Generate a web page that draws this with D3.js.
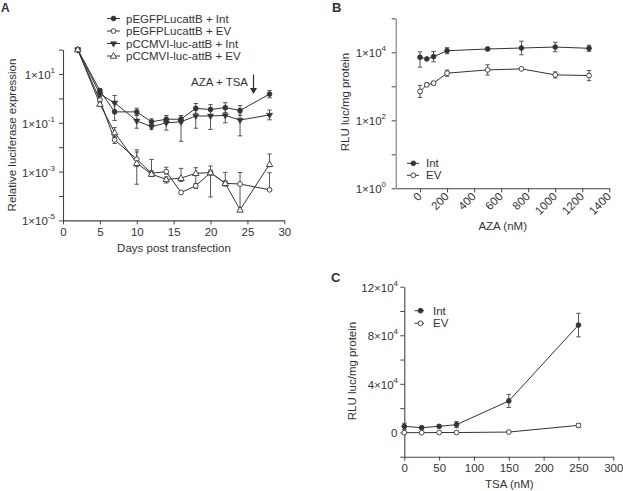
<!DOCTYPE html>
<html><head><meta charset="utf-8">
<script src="https://cdn.jsdelivr.net/npm/d3@7"></script>
<style>
body{margin:0;background:#fff;}
svg text{font-family:"Liberation Sans",Arial,sans-serif;fill:#333;}
</style></head>
<body><svg id="c" width="623" height="491"></svg>
<script>
// ---------- Panel A data ----------
const daysA = [2,5,7,10,12,14,16,18,20,22,24,28];
const egfpInt = [100,2.1,0.28,0.28,0.11,0.14,0.14,0.39,0.35,0.42,0.32,1.5];
const egfpEV  = [100,0.85,0.02,0.0032,0.00085,0.001,0.00014,0.00026,0.00091,0.00033,0.00031,0.00018];
const ccmviInt= [100,1.5,0.66,0.12,0.069,0.1,0.11,0.19,0.19,0.2,0.13,0.21];
const ccmviEV = [100,0.59,0.04,0.0022,0.00079,0.00048,0.00054,0.00085,0.00091,0.00033,0.000027,0.002];
// error bars in decades [up, down]
const egfpIntErr = [[0,0],[.08,.08],[.35,.35],[.15,.15],[.12,.12],[.15,.15],[.15,.15],[.2,.2],[.2,.2],[.2,.2],[.2,.2],[.15,.15]];
const egfpEVErr  = [[0,0],[.08,.08],[.15,.15],[.3,.3],[.1,.1],[.18,.1],[0,0],[.1,.1],[.1,.1],[.45,.1],[.47,1.05],[.7,0]];
const ccmviIntErr= [[0,0],[.1,.1],[.3,.3],[.25,.3],[.1,.1],[.15,.3],[.25,.8],[.25,.5],[.3,.55],[.25,.3],[.3,.65],[.2,.2]];
const ccmviEVErr = [[0,0],[.08,.08],[.2,.2],[.55,.86],[.6,.1],[.1,.15],[.4,.14],[.23,.5],[.27,1.0],[.1,.1],[0,0],[.42,.1]];
const seriesNamesA = ["pEGFPLucattB + Int","pEGFPLucattB + EV","pCCMVI-luc-attB + Int","pCCMVI-luc-attB + EV"];
const xTicksA = [0,5,10,15,20,25,30];
const yLabelTicksA = [1e-5,1e-3,1e-1,1e1];
const yLabelExpA = ["-5","-3","-1","1"];
const yMinorTicksA = [1e-4,1e-2,1e0,1e2];

// ---------- Panel B data ----------
const azaDose = [0,50,100,200,500,750,1000,1250];
const azaInt = [7140,6370,7430,11130,12500,13360,14290,13090];
const azaEV  = [705,1107,1241,2432,3036,3250,2167,2070];
const azaIntErr = [[.16,.29],[0,0],[.15,.15],[.09,.09],[.03,.03],[.2,.2],[.14,.14],[.09,.09]];
const azaEVErr  = [[.18,.18],[.05,.05],[.05,.05],[.09,.09],[.15,.15],[0,0],[.09,.09],[.15,.15]];
const xTicksB = [0,200,400,600,800,1000,1200,1400];
const yLabelTicksB = [1,1e2,1e4];
const yLabelExpB = ["0","2","4"];
const yMinorTicksB = [1e1,1e3,1e5];

// ---------- Panel C data ----------
const tsaDose = [0,25,50,75,150,250];
const tsaInt = [5000,3900,5000,6400,25900,88400];
const tsaEV  = [-200,-200,-100,-100,300,5800];
const tsaIntErr = [2500,800,1200,2500,5400,9700];
const tsaEVErr  = [500,300,300,300,300,1500];
const xTicksC = [0,50,100,150,200,250,300];
const yLabelTicksC = [0,40000,80000,120000];
const yLabelTextC = ["0","4×10","8×10","12×10"];
const yMinorTicksC = [-20000,20000,60000,100000];

const svg = d3.select("#c");
const ink = "#333";
const FS = 11.5;

function marker(g, type, x, y){
  const r = 2.4;
  if(type==="fc") g.append("circle").attr("cx",x).attr("cy",y).attr("r",r).attr("fill",ink).attr("stroke",ink).attr("stroke-width",0.8);
  else if(type==="oc") g.append("circle").attr("cx",x).attr("cy",y).attr("r",r).attr("fill","#fff").attr("stroke",ink).attr("stroke-width",0.9);
  else if(type==="ft") g.append("path").attr("d",d3.symbol(d3.symbolTriangle,17)()).attr("transform",`translate(${x},${y}) rotate(180)`).attr("fill",ink).attr("stroke",ink).attr("stroke-width",0.5);
  else if(type==="ot") g.append("path").attr("d",d3.symbol(d3.symbolTriangle,18)()).attr("transform",`translate(${x},${y+0.4})`).attr("fill","#fff").attr("stroke",ink).attr("stroke-width",0.9);
}

function styleAxis(g){
  g.selectAll(".domain").attr("stroke","#444").attr("stroke-width",1.1);
  g.selectAll(".tick line").attr("stroke","#444").attr("stroke-width",1);
  g.selectAll(".tick text").attr("font-size",FS).attr("fill",ink).attr("font-family","Liberation Sans, Arial, sans-serif");
}

function sciLabel(g, x, y, base, exp){
  const t = g.append("text").attr("x",x).attr("y",y).attr("text-anchor","end").attr("font-size",FS).attr("dominant-baseline","central");
  t.append("tspan").text(base);
  t.append("tspan").attr("dy",-5).attr("font-size",8).text(exp);
}

function errBar(g, x, y1, y2){
  if(Math.abs(y1-y2)<0.5) return;
  g.append("line").attr("x1",x).attr("x2",x).attr("y1",y1).attr("y2",y2).attr("stroke","#555").attr("stroke-width",1);
  g.append("line").attr("x1",x-2.2).attr("x2",x+2.2).attr("y1",y1).attr("y2",y1).attr("stroke","#555").attr("stroke-width",1);
  g.append("line").attr("x1",x-2.2).attr("x2",x+2.2).attr("y1",y2).attr("y2",y2).attr("stroke","#555").attr("stroke-width",1);
}

// ================= Panel A =================
{
  const x = d3.scaleLinear().domain([0,30]).range([63,284.3]);
  const y = d3.scaleLog().domain([1e-5,1e2]).range([220.4,49.6]);
  const g = svg.append("g");
  const ax = g.append("g").attr("transform","translate(0,220.4)")
    .call(d3.axisBottom(x).tickValues(xTicksA).tickSize(4).tickSizeOuter(0).tickPadding(3));
  styleAxis(ax);
  const ay = g.append("g").attr("transform","translate(63,0)")
    .call(d3.axisLeft(y).tickValues(yLabelTicksA.concat(yMinorTicksA)).tickFormat("").tickSize(4).tickSizeOuter(0));
  styleAxis(ay);
  yLabelTicksA.forEach((v,i)=>sciLabel(g,55,y(v)+1,"1×10",yLabelExpA[i]));
  g.append("text").attr("x",174).attr("y",252).attr("text-anchor","middle").attr("font-size",FS).text("Days post transfection");
  g.append("text").attr("transform","translate(16,135) rotate(-90)").attr("text-anchor","middle").attr("font-size",FS).text("Relative luciferase expression");
  g.append("text").attr("x",1).attr("y",12).attr("font-size",12).attr("font-weight","bold").text("A");

  const series = [
    {v:egfpInt,e:egfpIntErr,m:"fc"},
    {v:egfpEV,e:egfpEVErr,m:"oc"},
    {v:ccmviInt,e:ccmviIntErr,m:"ft"},
    {v:ccmviEV,e:ccmviEVErr,m:"ot"}
  ];
  const line = d3.line().x((d,i)=>x(daysA[i])).y(d=>y(d));
  series.forEach(s=>{
    s.v.forEach((v,i)=>{
      const yl = Math.log10(v);
      errBar(g, x(daysA[i]), y(Math.pow(10,yl+s.e[i][0])), y(Math.pow(10,yl-s.e[i][1])));
    });
  });
  series.forEach(s=>{
    g.append("path").datum(s.v).attr("d",line).attr("fill","none").attr("stroke",ink).attr("stroke-width",1);
  });
  series.forEach(s=>{
    s.v.forEach((v,i)=>marker(g,s.m,x(daysA[i]),y(v)));
  });
  // legend
  series.forEach((s,i)=>{
    const yy = 18.5 + i*12.5;
    g.append("line").attr("x1",107).attr("x2",120).attr("y1",yy).attr("y2",yy).attr("stroke",ink).attr("stroke-width",1);
    marker(g,s.m,113.5,yy);
    g.append("text").attr("x",126).attr("y",yy).attr("dominant-baseline","central").attr("font-size",FS).text(seriesNamesA[i]);
  });
  // annotation
  g.append("text").attr("x",248).attr("y",86).attr("text-anchor","end").attr("font-size",FS).text("AZA + TSA");
  g.append("line").attr("x1",253.5).attr("x2",253.5).attr("y1",74.5).attr("y2",89).attr("stroke",ink).attr("stroke-width",1.2);
  g.append("path").attr("d","M250,88 L257,88 L253.5,94 Z").attr("fill",ink);
}

// ================= Panel B =================
{
  const x = d3.scaleLinear().domain([-180,1400]).range([395.7,609.3]);
  const y = d3.scaleLog().domain([1,1e5]).range([188.3,18.3]);
  const g = svg.append("g");
  const ax = g.append("g").attr("transform","translate(0,188.3)")
    .call(d3.axisBottom(x).tickValues(xTicksB).tickFormat(d3.format("d")).tickSize(4).tickSizeOuter(0));
  styleAxis(ax);
  ax.selectAll(".tick text").attr("text-anchor","end").attr("dy",0).attr("y",0)
    .attr("transform","translate(2,9) rotate(-45)");
  const ay = g.append("g").attr("transform","translate(395.7,0)")
    .call(d3.axisLeft(y).tickValues(yLabelTicksB.concat(yMinorTicksB)).tickFormat("").tickSize(4).tickSizeOuter(0));
  styleAxis(ay);
  ay.select(".domain").attr("stroke","#777");
  yLabelTicksB.forEach((v,i)=>sciLabel(g,386,y(v)+1,"1×10",yLabelExpB[i]));
  g.append("text").attr("x",502.7).attr("y",230).attr("text-anchor","middle").attr("font-size",FS).text("AZA (nM)");
  g.append("text").attr("transform","translate(349,102) rotate(-90)").attr("text-anchor","middle").attr("font-size",FS).text("RLU luc/mg protein");
  g.append("text").attr("x",332).attr("y",12).attr("font-size",13).attr("font-weight","bold").text("B");
  const series = [{v:azaInt,e:azaIntErr,m:"fc"},{v:azaEV,e:azaEVErr,m:"oc"}];
  const line = d3.line().x((d,i)=>x(azaDose[i])).y(d=>y(d));
  series.forEach(s=>{
    s.v.forEach((v,i)=>{
      const yl=Math.log10(v);
      errBar(g,x(azaDose[i]),y(Math.pow(10,yl+s.e[i][0])),y(Math.pow(10,yl-s.e[i][1])));
    });
    g.append("path").datum(s.v).attr("d",line).attr("fill","none").attr("stroke",ink).attr("stroke-width",1);
    s.v.forEach((v,i)=>marker(g,s.m,x(azaDose[i]),y(v)));
  });
  ["Int","EV"].forEach((t,i)=>{
    const yy = 163.3 + i*12;
    g.append("line").attr("x1",407).attr("x2",419).attr("y1",yy).attr("y2",yy).attr("stroke",ink);
    marker(g,i===0?"fc":"oc",413.3,yy);
    g.append("text").attr("x",426).attr("y",yy).attr("dominant-baseline","central").attr("font-size",FS).text(t);
  });
}

// ================= Panel C =================
{
  const x = d3.scaleLinear().domain([0,300]).range([404.3,613.3]);
  const y = d3.scaleLinear().domain([-20000,120000]).range([456.7,286.7]);
  const g = svg.append("g");
  const ax = g.append("g").attr("transform","translate(0,456.7)")
    .call(d3.axisBottom(x).tickValues(xTicksC).tickSize(4).tickSizeOuter(0).tickPadding(3));
  styleAxis(ax);
  const ay = g.append("g").attr("transform","translate(404.3,0)")
    .call(d3.axisLeft(y).tickValues(yLabelTicksC.concat(yMinorTicksC)).tickFormat("").tickSize(4).tickSizeOuter(0));
  styleAxis(ay);
  yLabelTicksC.forEach((v,i)=>{
    if(v===0){
      g.append("text").attr("x",397.5).attr("y",y(v)+1).attr("text-anchor","end").attr("dominant-baseline","central").attr("font-size",FS).text("0");
    } else sciLabel(g,398,y(v)+1,yLabelTextC[i],"4");
  });
  g.append("text").attr("x",509.3).attr("y",487.5).attr("text-anchor","middle").attr("font-size",FS).text("TSA (nM)");
  g.append("text").attr("transform","translate(356,371) rotate(-90)").attr("text-anchor","middle").attr("font-size",FS).text("RLU luc/mg protein");
  g.append("text").attr("x",331).attr("y",282).attr("font-size",13).attr("font-weight","bold").text("C");
  const series = [{v:tsaInt,e:tsaIntErr,m:"fc"},{v:tsaEV,e:tsaEVErr,m:"oc"}];
  const line = d3.line().x((d,i)=>x(tsaDose[i])).y(d=>y(d));
  series.forEach(s=>{
    s.v.forEach((v,i)=>errBar(g,x(tsaDose[i]),y(v+s.e[i]),y(v-s.e[i])));
    g.append("path").datum(s.v).attr("d",line).attr("fill","none").attr("stroke",ink).attr("stroke-width",1);
    s.v.forEach((v,i)=>marker(g,s.m,x(tsaDose[i]),y(v)));
  });
  ["Int","EV"].forEach((t,i)=>{
    const yy = 310.7 + i*12.6;
    g.append("line").attr("x1",414.5).attr("x2",424).attr("y1",yy).attr("y2",yy).attr("stroke",ink);
    marker(g,i===0?"fc":"oc",420.5,yy);
    g.append("text").attr("x",433).attr("y",yy).attr("dominant-baseline","central").attr("font-size",FS).text(t);
  });
}
</script></body></html>
